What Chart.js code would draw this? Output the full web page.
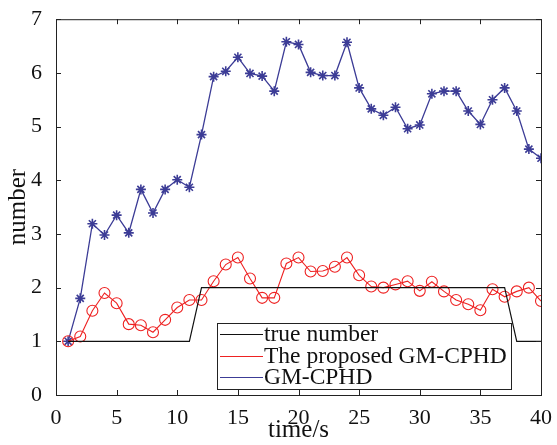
<!doctype html>
<html lang="en">
<head>
<meta charset="utf-8">
<title>number vs time</title>
<style>
  * { margin: 0; padding: 0; box-sizing: border-box; }
  html, body { width: 557px; height: 445px; background: #fff; overflow: hidden; }
  .cw { position: relative; width: 557px; height: 445px; }
</style>
</head>
<body>
<div class="cw"><canvas id="c"></canvas></div>
<script src="https://cdn.jsdelivr.net/npm/chart.js@4.4.1/dist/chart.umd.min.js"></script>
<script>
  // time steps and series
  const times = [1,2,3,4,5,6,7,8,9,10,11,12,13,14,15,16,17,18,19,20,
                 21,22,23,24,25,26,27,28,29,30,31,32,33,34,35,36,37,38,39,40];
  const trueNumber = [1,1,1,1,1,1,1,1,1,1,1,2,2,2,2,2,2,2,2,2,
                      2,2,2,2,2,2,2,2,2,2,2,2,2,2,2,2,2,1,1,1];
  const proposed = [1.00,1.09,1.57,1.90,1.71,1.32,1.30,1.17,1.40,1.63,1.77,1.77,2.12,2.43,2.56,2.17,1.81,1.81,2.45,2.56,
                    2.30,2.31,2.39,2.56,2.23,2.02,2.00,2.06,2.12,1.94,2.11,1.93,1.77,1.69,1.58,1.97,1.83,1.93,2.00,1.75];
  const gmcphd = [1.00,1.80,3.19,2.98,3.35,3.02,3.83,3.39,3.83,4.01,3.87,4.85,5.93,6.03,6.29,5.99,5.94,5.66,6.58,6.53,
                  6.01,5.95,5.95,6.57,5.72,5.33,5.21,5.36,4.96,5.03,5.61,5.66,5.66,5.29,5.04,5.50,5.72,5.29,4.58,4.41];
  const xTicks = [0,5,10,15,20,25,30,35,40];
  const yTicks = [0,1,2,3,4,5,6,7];
  const legendNames = ["true number", "The proposed GM-CPHD", "GM-CPHD"];

  const black = "#111", red = "#ee2222", blue = "#3c3c96";
  const FONT = '"Liberation Serif", "DejaVu Serif", serif';
  const pts = ys => times.map((t, i) => ({ x: t, y: ys[i] }));

  // matlab-ish frame: box on all four sides, ticks pointing inward
  const frame = {
    id: "frame",
    afterDatasetsDraw(ch) {
      const { ctx, chartArea: a, scales: { x, y } } = ch;
      ctx.save();
      ctx.strokeStyle = "#222";
      ctx.lineWidth = 1;
      ctx.strokeRect(a.left + 0.5, a.top + 0.5, a.right - a.left, a.bottom - a.top);
      ctx.beginPath();
      const L = 5;
      xTicks.forEach(v => {
        const px = Math.round(x.getPixelForValue(v)) + 0.5;
        ctx.moveTo(px, a.bottom); ctx.lineTo(px, a.bottom - L);
        ctx.moveTo(px, a.top); ctx.lineTo(px, a.top + L);
      });
      yTicks.forEach(v => {
        const py = Math.round(y.getPixelForValue(v)) + 0.5;
        ctx.moveTo(a.left, py); ctx.lineTo(a.left + L, py);
        ctx.moveTo(a.right, py); ctx.lineTo(a.right - L, py);
      });
      ctx.stroke();

      // legend box in the lower right of the axes
      const bx = 217, by = 323, bw = 294, bh = 66;
      ctx.fillStyle = "#fff";
      ctx.fillRect(bx, by, bw, bh);
      ctx.strokeStyle = "#222";
      ctx.strokeRect(bx + 0.5, by + 0.5, bw, bh);
      const cols = [black, red, blue];
      ctx.font = "23.5px " + FONT;
      ctx.textBaseline = "middle";
      legendNames.forEach((n, i) => {
        const ly = by + 11 + i * 21.5;
        ctx.strokeStyle = cols[i];
        ctx.beginPath();
        ctx.moveTo(220, Math.round(ly) + 0.5); ctx.lineTo(263, Math.round(ly) + 0.5);
        ctx.stroke();
        ctx.fillStyle = "#111";
        ctx.fillText(n, 264, ly + 1);
      });
      ctx.restore();
    }
  };

  new Chart(document.getElementById("c"), {
    type: "line",
    data: { datasets: [
      { label: legendNames[0], data: pts(trueNumber), borderColor: black, borderWidth: 1.2,
        pointRadius: 0, tension: 0 },
      { label: legendNames[1], data: pts(proposed), borderColor: red, borderWidth: 1.1,
        pointStyle: "circle", pointRadius: 5.5, pointBorderWidth: 1.1, pointBorderColor: red,
        pointBackgroundColor: "rgba(0,0,0,0)", tension: 0 },
      { label: legendNames[2], data: pts(gmcphd), borderColor: blue, borderWidth: 1.3,
        pointStyle: "star", pointRadius: 5, pointBorderWidth: 1.6, pointBorderColor: blue,
        pointBackgroundColor: blue, tension: 0 } ] },
    options: {
      responsive: true, maintainAspectRatio: false, animation: false,
      layout: { padding: { top: 17, right: 16, left: 0, bottom: 0 } },
      scales: {
        x: { type: "linear", min: 0, max: 40,
          afterBuildTicks: s => { s.ticks = xTicks.map(v => ({ value: v })); },
          afterFit: s => { s.height = 50; },
          grid: { display: false }, border: { display: false },
          ticks: { color: "#111", padding: 2, font: { family: FONT, size: 22 }, maxRotation: 0 },
          title: { display: true, text: "time/s", color: "#111", padding: { top: -8, bottom: 0 },
            font: { family: FONT, size: 25 } } },
        y: { min: 0, max: 7,
          afterBuildTicks: s => { s.ticks = yTicks.map(v => ({ value: v })); },
          afterFit: s => { s.width = 56; },
          grid: { display: false }, border: { display: false },
          ticks: { color: "#111", padding: 6, font: { family: FONT, size: 22 } },
          title: { display: true, text: "number", color: "#111", padding: { top: 3, bottom: 0 },
            font: { family: FONT, size: 25 } } }
      },
      plugins: { legend: { display: false }, tooltip: { enabled: false } }
    },
    plugins: [frame]
  });
</script>
</body>
</html>
